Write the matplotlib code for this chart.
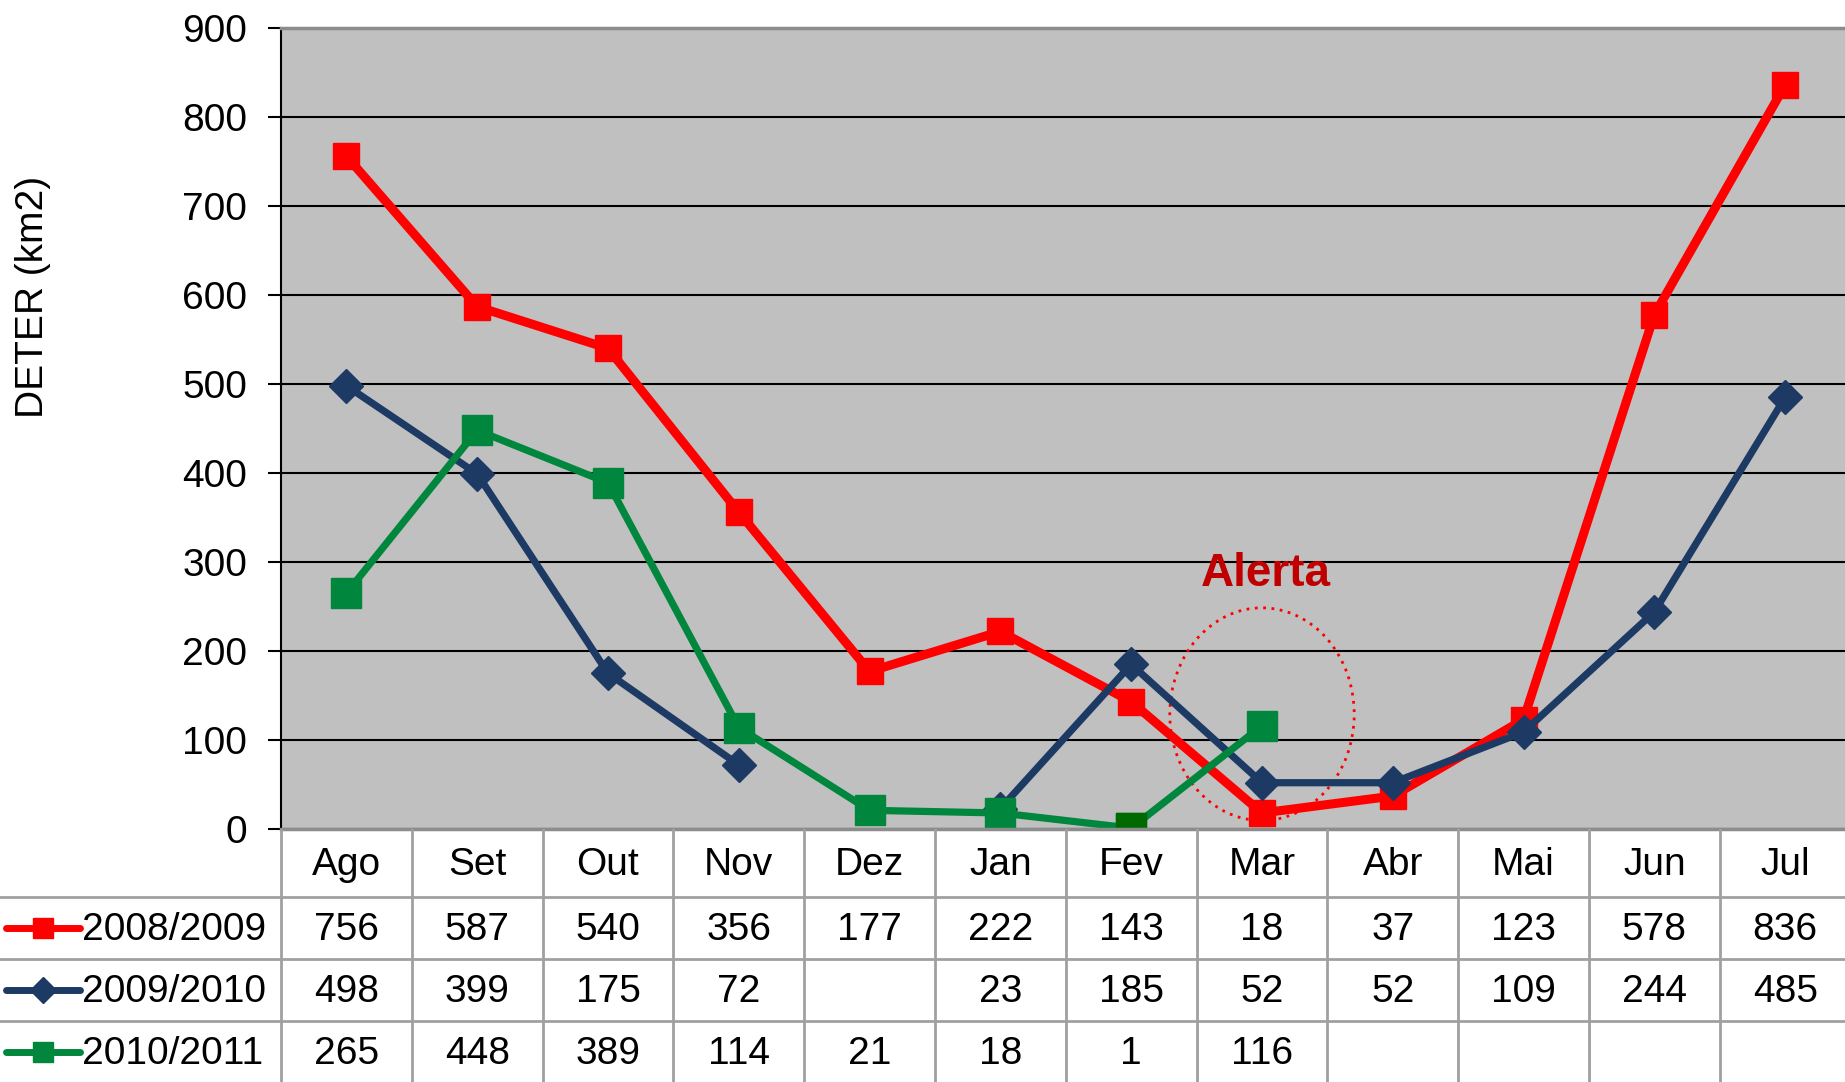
import numpy as np
import matplotlib
matplotlib.use("Agg")
import matplotlib.pyplot as plt
from matplotlib.patches import Ellipse

plt.rcParams['font.family'] = ['Liberation Sans', 'DejaVu Sans']

months = ['Ago', 'Set', 'Out', 'Nov', 'Dez', 'Jan', 'Fev', 'Mar', 'Abr', 'Mai', 'Jun', 'Jul']
labels = ['2008/2009', '2009/2010', '2010/2011']
s0809 = [756, 587, 540, 356, 177, 222, 143, 18, 37, 123, 578, 836]
s0910 = [498, 399, 175, 72, np.nan, 23, 185, 52, 52, 109, 244, 485]
s1011 = [265, 448, 389, 114, 21, 18, 1, 116, np.nan, np.nan, np.nan, np.nan]
colors = ['#FF0000', '#1C3A63', '#00873D']
markers = ['s', 'D', 's']
msizes = [19, 17, 22]
lws = [6.5, 5.2, 5.2]

W, H = 1845, 1082
fig = plt.figure(figsize=(W / 100, H / 100), dpi=100)

# pixel layout (plot runs a few px past the right edge, like the original)
left_px, top_px, bot_px = 281, 28, 829
colw = 130.8
right_px = left_px + 12 * colw
ax = fig.add_axes([left_px / W, 1 - bot_px / H, (right_px - left_px) / W, (bot_px - top_px) / H])
ax.set_facecolor('#C0C0C0')

x = np.arange(len(months))
series = [s0809, s0910, s1011]
for vals, c, m, ms, lw, lab in zip(series, colors, markers, msizes, lws, labels):
    ax.plot(x, vals, color=c, lw=lw, marker=m, markersize=ms, label=lab)
# darker marker on Fev of 2010/2011
ax.plot(x[6], s1011[6], marker='s', markersize=msizes[2], color='#006A00', lw=0)

ax.set_xlim(-0.5, len(months) - 0.5)
ax.set_ylim(0, 900)
ax.set_yticks(range(0, 901, 100))
ax.set_xticks([])
ax.tick_params(axis='y', labelsize=28, length=9.5, width=1.5, pad=15, color='black')
ax.yaxis.grid(True, color='black', lw=1.5)
ax.set_axisbelow(True)
ax.spines['right'].set_visible(False)
ax.spines['top'].set_color('#8C8C8C')
ax.spines['top'].set_linewidth(2.5)
ax.spines['bottom'].set_color('#8C8C8C')
ax.spines['bottom'].set_linewidth(2.5)
ax.spines['left'].set_color('black')
ax.spines['left'].set_linewidth(1.5)

# alert annotation
ax.add_patch(Ellipse((7, 129), 1.41, 239, fill=False, edgecolor='#FF0000',
                     linestyle=(0, (1, 2)), lw=2))
ax.text(7.03, 286, 'Alerta', color='#C00000', fontsize=33, fontweight='bold',
        ha='center', va='center')

fig.text(33 / W, 1 - 297 / H, 'DETER (km2)', rotation=90, fontsize=28,
         ha='center', va='center')

# data table
tax = fig.add_axes([0, 0, 1, 1 - bot_px / H])
tax.set_xlim(0, W)
tax.set_ylim(H, bot_px)
tax.axis('off')
rows = [bot_px, 897, 959, 1021, H]
gcol = '#A0A0A0'
for yb in rows[1:-1]:
    tax.plot([0, W], [yb, yb], color=gcol, lw=2)
for i in range(len(months) + 1):
    xb = left_px + i * colw
    tax.plot([xb, xb], [bot_px, H], color=gcol, lw=2)

for i, mth in enumerate(months):
    cx = left_px + (i + 0.5) * colw
    tax.text(cx, (rows[0] + rows[1]) / 2 + 2, mth, fontsize=28, ha='center', va='center')
    for r, vals in enumerate(series):
        v = vals[i]
        if not np.isnan(v):
            tax.text(cx, (rows[r + 1] + rows[r + 2]) / 2 + 2, f'{int(v)}', fontsize=28,
                     ha='center', va='center')

for r, (lab, c, m) in enumerate(zip(labels, colors, markers)):
    cy = (rows[r + 1] + rows[r + 2]) / 2
    tax.plot([6, 80], [cy, cy], color=c, lw=5, solid_capstyle='round')
    tax.plot(43, cy, marker=m, color=c, markersize=14 if m == 's' else 13)
    tax.text(82, cy + 2, lab, fontsize=28, ha='left', va='center')

fig.savefig('out.png', dpi=100)
